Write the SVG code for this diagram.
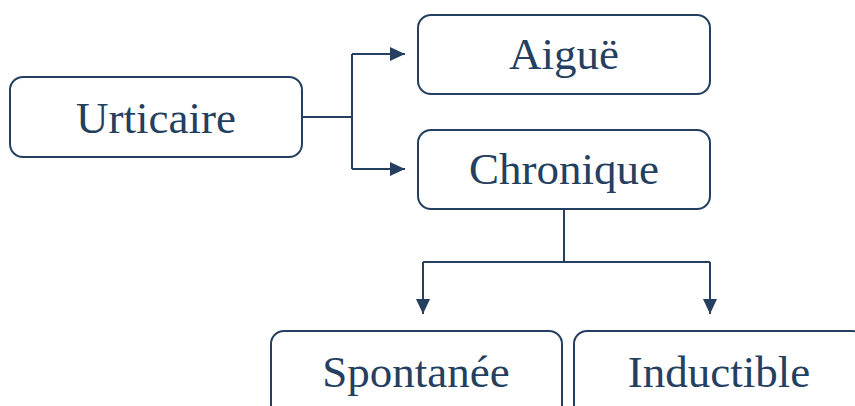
<svg xmlns="http://www.w3.org/2000/svg" width="855" height="406" viewBox="0 0 855 406">
<defs>
<marker id="ah" markerUnits="userSpaceOnUse" markerWidth="16" markerHeight="14" refX="15" refY="7" orient="auto">
<path d="M0,0 L15,7 L0,14 Z" fill="#243F60"/>
</marker>
<style>
.box{fill:#fff;stroke:#243F60;stroke-width:2}
.lbl{font-family:"Liberation Serif","DejaVu Serif",serif;font-size:45px;fill:#243F60;text-anchor:middle}
.con{fill:none;stroke:#243F60;stroke-width:2}
</style>
</defs>
<rect width="855" height="406" fill="#fff"/>
<g id="connectors">
<path class="con" d="M302,117 H352"/>
<path class="con" d="M352,54 V169"/>
<path class="con" d="M352,54 H405" marker-end="url(#ah)"/>
<path class="con" d="M352,169 H405" marker-end="url(#ah)"/>
<path class="con" d="M564,209 V262"/>
<path class="con" d="M423,262 H710"/>
<path class="con" d="M423,262 V314" marker-end="url(#ah)"/>
<path class="con" d="M710,262 V314" marker-end="url(#ah)"/>
</g>
<g id="urticaire">
<rect class="box" x="10" y="77" width="292" height="80" rx="13"/>
<text class="lbl" x="156" y="133">Urticaire</text>
</g>
<g id="aigue">
<rect class="box" x="418" y="15" width="292" height="79" rx="13"/>
<text class="lbl" x="564" y="69">Aiguë</text>
</g>
<g id="chronique">
<rect class="box" x="418" y="130" width="292" height="79" rx="13"/>
<text class="lbl" x="564" y="184">Chronique</text>
</g>
<g id="spontanee">
<rect class="box" x="271" y="331" width="291" height="90" rx="13"/>
<text class="lbl" x="416" y="387">Spontanée</text>
</g>
<g id="inductible">
<rect class="box" x="574" y="331" width="291" height="90" rx="13"/>
<text class="lbl" x="719" y="387">Inductible</text>
</g>
</svg>
